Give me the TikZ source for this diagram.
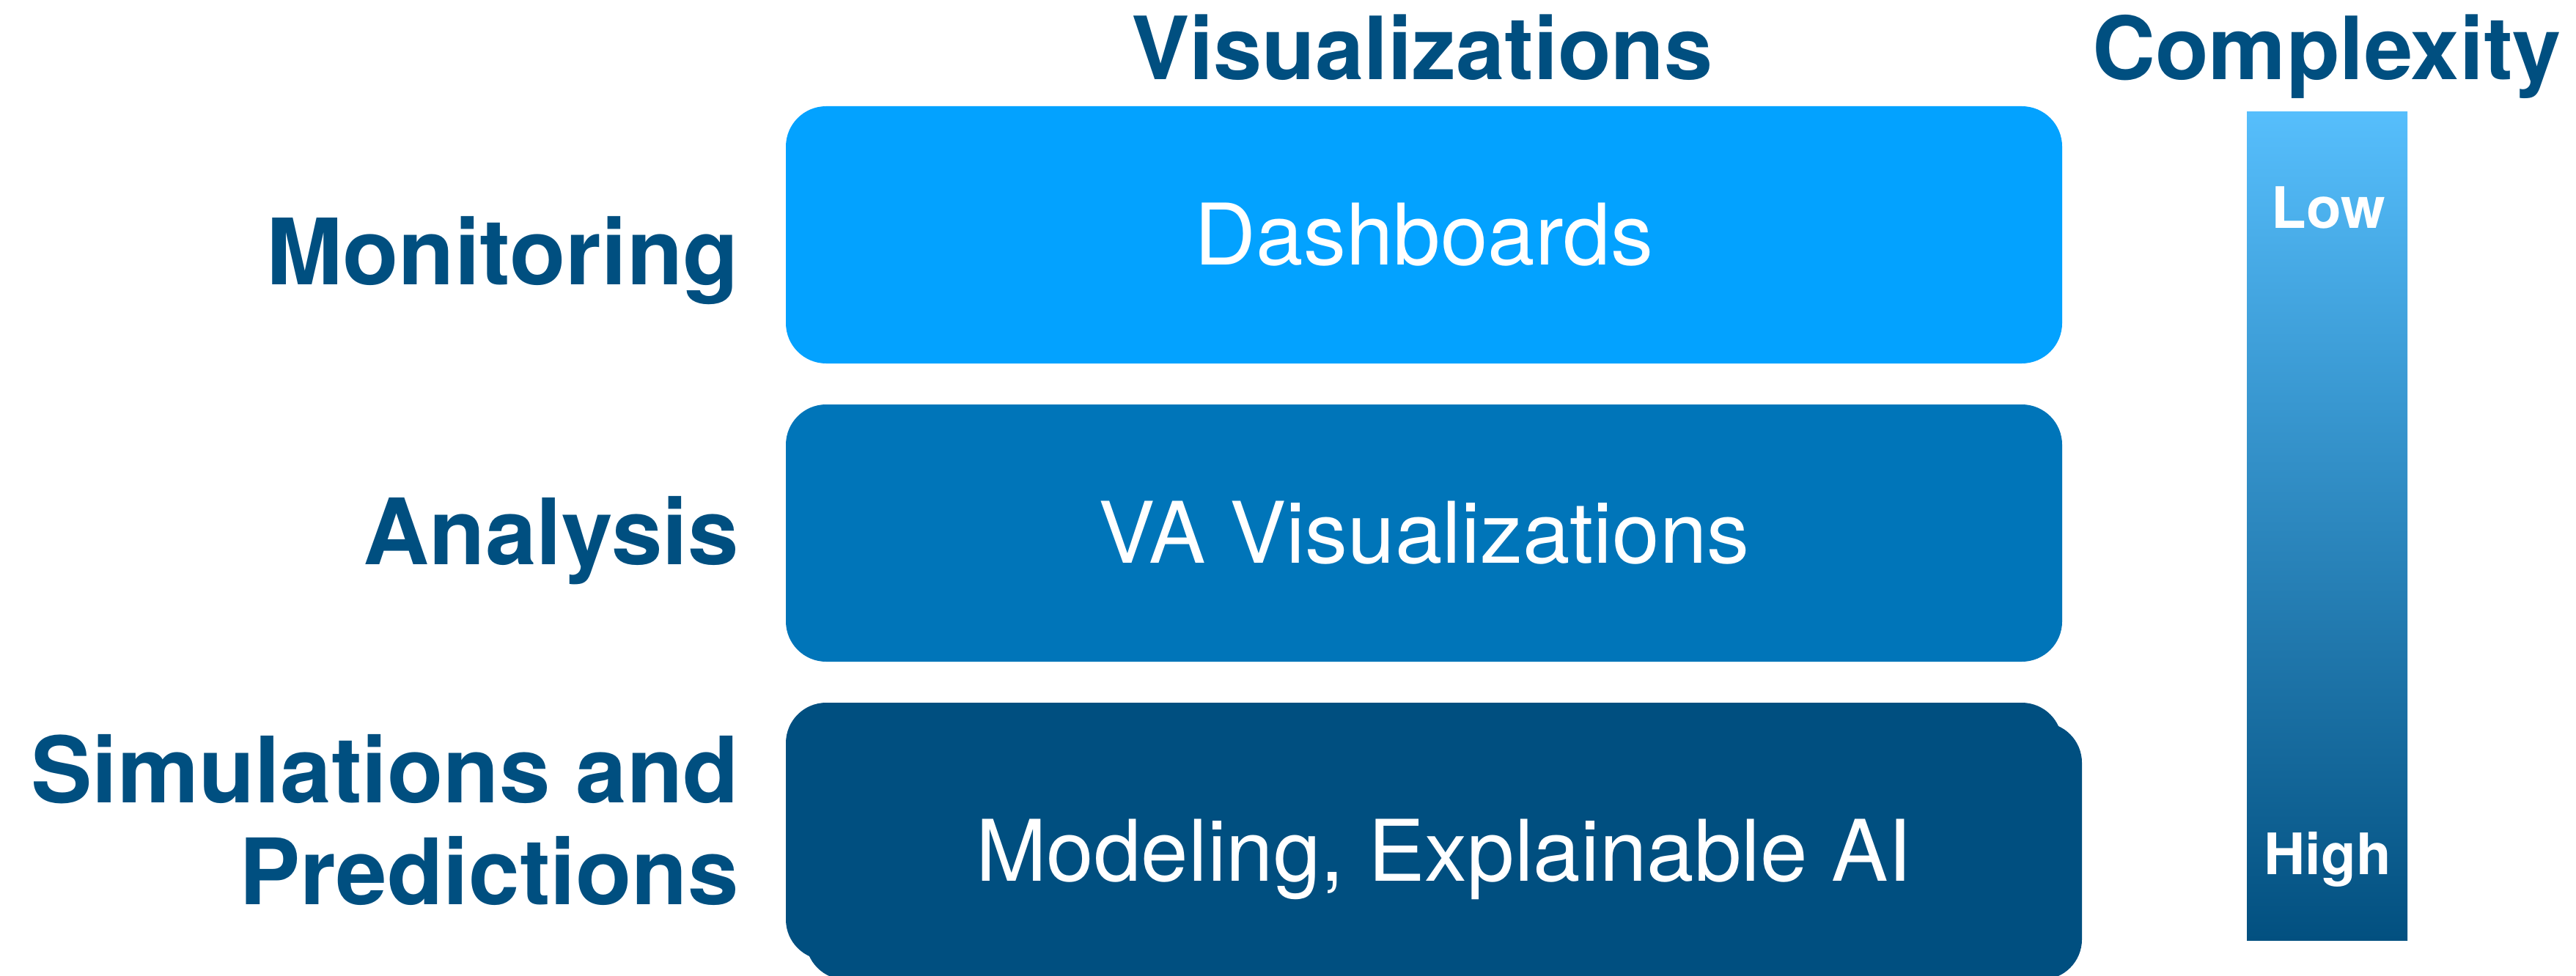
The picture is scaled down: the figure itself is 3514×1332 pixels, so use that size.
\documentclass[tikz,border=0pt]{standalone}
\usepackage{fontspec}
\setmainfont{TeX Gyre Heros}
\begin{document}
\definecolor{navy}{RGB}{0,79,128}
\definecolor{skyb}{RGB}{3,162,255}
\definecolor{midb}{RGB}{0,117,185}
\definecolor{bartop}{RGB}{86,190,252}
\definecolor{barbot}{RGB}{2,80,128}
\tikzset{
  layer/.style={rectangle, rounded corners=55pt, minimum width=1741pt, minimum height=351pt,
    inner sep=0pt, text=white, text height=81pt, text depth=0pt,
    font=\fontsize{116}{130}\selectfont},
  title/.style={text=navy, inner sep=0pt, anchor=base, font=\bfseries\fontsize{119}{130}\selectfont},
  side/.style={text=navy, inner sep=0pt, font=\bfseries\fontsize{125}{139}\selectfont},
  level/.style={text=white, inner sep=0pt, anchor=base, font=\bfseries\fontsize{78}{90}\selectfont}
}
\begin{tikzpicture}[x=1pt,y=-1pt]
\useasboundingbox (0,0) rectangle (3514,1332);
% title row
\node[title] (vis) at (1940,109) {Visualizations};
\node[title] (cpx) at (3174,109) {Complexity};
% layers
\node[layer, fill=skyb] (dash) at (1942.5,320.5) {Dashboards};
\node[layer, fill=midb] (va) at (1942.5,727.5) {VA Visualizations};
\node[layer, fill=navy] (modA) at (1942.5,1134.5) {};
\node[layer, fill=navy] (modB) at (1969.5,1161.5) {Modeling, Explainable AI};
% side labels
\node[side, anchor=base east] (mon) at (1008,388) {Monitoring};
\node[side, anchor=base east] (ana) at (1008,770) {Analysis};
\node[side, anchor=north east, align=right] (sim) at (1008,1002) {Simulations and\\Predictions};
% complexity bar
\shade[top color=bartop, bottom color=barbot] (3065,153) rectangle (3284,1283);
\node[level] (low) at (3176,312) {Low};
\node[level] (high) at (3175,1193) {High};
\end{tikzpicture}
\end{document}
